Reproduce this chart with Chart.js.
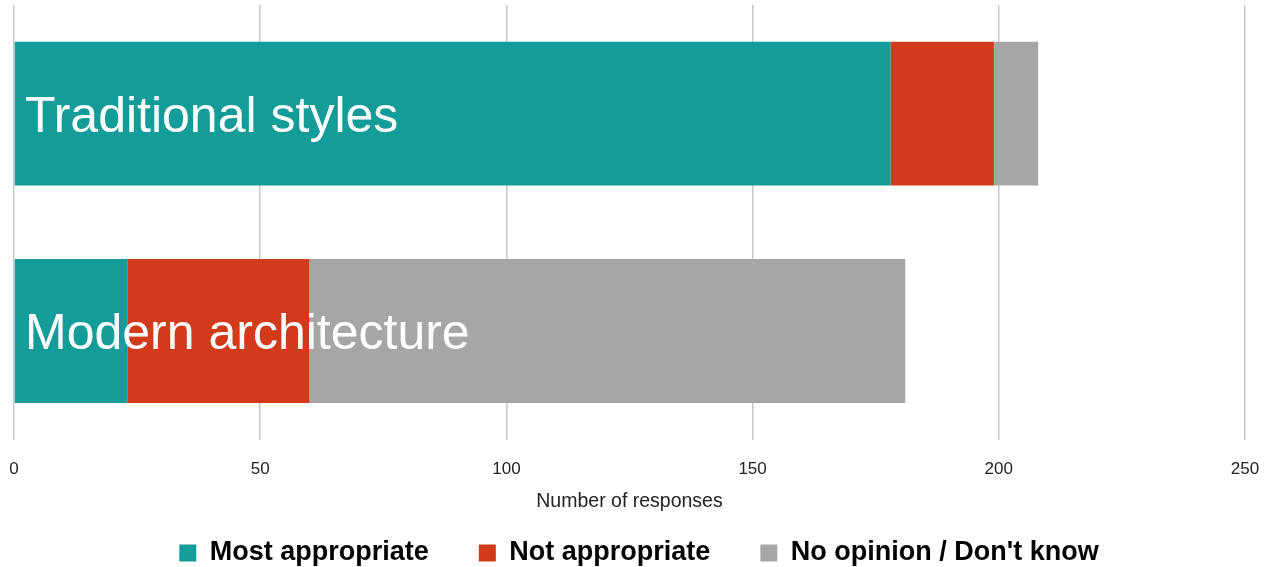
<!DOCTYPE html>
<html>
<head>
<meta charset="utf-8">
<script src="https://cdn.jsdelivr.net/npm/chart.js@4/dist/chart.umd.min.js"></script>
<style>
html,body{margin:0;padding:0;background:#fff;}
#wrap{width:1264px;height:567px;position:relative;}
</style>
</head>
<body>
<div id="wrap"><canvas id="c"></canvas></div>
<script>
const categories = ["Traditional styles", "Modern architecture"];
const mostAppropriate = [178, 23];
const notAppropriate = [21, 37];
const noOpinion = [9, 121];
const xTicks = [0, 50, 100, 150, 200, 250];
const seriesNames = ["Most appropriate", "Not appropriate", "No opinion / Don't know"];
const seriesColors = ["#139c98", "#d13b1c", "#a6a6a6"];

// Category names drawn inside the bars, positioned by the y scale
const categoryLabels = {
  id: 'categoryLabels',
  afterDatasetsDraw(chart) {
    const {ctx, chartArea, scales: {y}} = chart;
    ctx.save();
    ctx.font = '50px "Liberation Sans"';
    ctx.fillStyle = '#ffffff';
    ctx.textAlign = 'left';
    ctx.textBaseline = 'alphabetic';
    chart.data.labels.forEach((lab, i) => {
      ctx.fillText(lab, chartArea.left + 11, y.getPixelForValue(i) + 18);
    });
    ctx.restore();
  }
};

const ctx = document.getElementById('c');
new Chart(ctx, {
  type: 'bar',
  data: {
    labels: categories,
    datasets: [
      {label: seriesNames[0], data: mostAppropriate, backgroundColor: seriesColors[0]},
      {label: seriesNames[1], data: notAppropriate, backgroundColor: seriesColors[1]},
      {label: seriesNames[2], data: noOpinion, backgroundColor: seriesColors[2]}
    ]
  },
  plugins: [categoryLabels],
  options: {
    indexAxis: 'y',
    responsive: true,
    maintainAspectRatio: false,
    animation: false,
    datasets: {bar: {categoryPercentage: 1, barPercentage: 0.662, borderWidth: 0}},
    layout: {padding: {top: 5, left: 14, right: 0, bottom: -9.5}},
    scales: {
      x: {
        stacked: true,
        min: 0, max: 250,
        afterBuildTicks: (s) => { s.ticks = xTicks.map(v => ({value: v})); },
        afterFit: (s) => { s.paddingRight = 19; },
        grid: {color: '#c8c8c8', lineWidth: 1.5, drawTicks: true, tickLength: 19, tickColor: 'rgba(0,0,0,0)'},
        border: {display: false},
        ticks: {padding: 0, color: '#222', font: {family: 'Liberation Sans', size: 17}},
        title: {display: true, text: 'Number of responses', color: '#222',
                font: {family: 'Liberation Sans', size: 19.5}, padding: {top: 10.5, bottom: -23.5}}
      },
      y: {
        stacked: true,
        display: false
      }
    },
    plugins: {
      tooltip: {enabled: false},
      legend: {
        position: 'bottom',
        labels: {boxWidth: 17, boxHeight: 17, padding: 50, color: '#000',
                 font: {family: 'Liberation Sans', size: 27, weight: 'bold'}}
      }
    }
  }
});
</script>
</body>
</html>
